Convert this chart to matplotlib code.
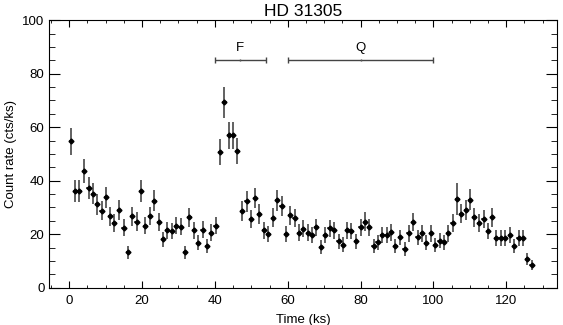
import matplotlib
matplotlib.use("Agg")
import matplotlib.pyplot as plt
from matplotlib.ticker import MultipleLocator
import numpy as np

plt.rcParams['font.family'] = ['Liberation Sans', 'DejaVu Sans']

# light curve, 1.2 ks bins
time_ks = [0.4, 1.55, 2.8, 4.0, 5.3, 6.5, 7.7, 8.9, 10.1, 11.3, 12.4, 13.7, 14.9, 16.1,
           17.3, 18.5, 19.7, 20.9, 22.2, 23.4, 24.6, 25.8, 26.9, 28.1, 29.4, 30.6, 31.8,
           33.0, 34.2, 35.4, 36.6, 37.8, 39.0, 40.2,
           41.4, 42.6, 43.8, 45.0, 46.2, 47.5, 48.7, 49.9, 51.0, 52.2, 53.5, 54.7, 55.9,
           57.1, 58.3, 59.5, 60.6, 61.9, 63.1, 64.3, 65.5, 66.7, 67.9, 69.1, 70.3, 71.5,
           72.7, 74.0, 75.2, 76.4, 77.5, 78.7, 80.0, 81.2, 82.4, 83.6, 84.7,
           86.0, 87.2, 88.4, 89.6, 90.9, 92.1, 93.2, 94.4, 95.7, 96.9, 98.1, 99.3, 100.5,
           101.7, 102.9, 104.1, 105.3, 106.6, 107.7, 109.0, 110.1, 111.3, 112.5, 113.8,
           115.0, 116.2, 117.3, 118.5, 119.8, 121.0, 122.2, 123.4, 124.6, 125.8, 127.0]
rate = [54.7, 36.1, 36.1, 43.7, 37.3, 35.1, 31.1, 28.7, 33.8, 26.6, 24.2, 29.0, 22.4, 13.2,
        26.6, 24.7, 36.1, 23.2, 26.8, 32.5, 24.5, 18.0, 21.5, 21.1, 23.2, 22.7, 13.2,
        26.3, 21.5, 16.7, 21.7, 15.5, 20.6, 23.2,
        50.7, 69.3, 57.0, 57.0, 51.1, 28.6, 32.2, 25.7, 33.5, 27.5, 21.5, 19.9, 26.1,
        32.6, 30.5, 19.9, 27.0, 26.0, 20.6, 22.1, 20.6, 19.7, 22.5, 15.1, 19.5, 22.2,
        21.5, 17.3, 16.1, 21.5, 21.1, 17.3, 22.6, 24.7, 22.6, 15.5, 17.0,
        19.7, 19.7, 20.7, 15.5, 18.8, 14.6, 20.3, 24.5, 18.8, 20.3, 16.7, 20.3, 15.9,
        17.6, 17.0, 20.3, 24.2, 33.2, 27.6, 29.1, 32.8, 26.3, 24.2, 25.7,
        21.1, 26.3, 18.5, 18.5, 18.5, 19.7, 15.5, 18.5, 18.5, 10.7, 8.5]
rate_err = [5.0, 4.1, 4.1, 4.5, 4.2, 4.0, 3.8, 3.6, 4.0, 3.5, 3.3, 3.7, 3.2, 2.5,
            3.5, 3.4, 4.1, 3.3, 3.5, 3.9, 3.4, 2.9, 3.2, 3.1, 3.3, 3.2, 2.5,
            3.5, 3.2, 2.8, 3.2, 2.7, 3.1, 3.3,
            4.8, 5.7, 5.1, 5.1, 4.9, 3.6, 3.9, 3.4, 3.9, 3.6, 3.2, 3.0, 3.5,
            3.9, 3.8, 3.0, 3.5, 3.5, 3.1, 3.2, 3.1, 3.0, 3.2, 2.6, 3.0, 3.2,
            3.2, 2.8, 2.7, 3.2, 3.1, 2.8, 3.2, 3.4, 3.2, 2.7, 2.8,
            3.0, 3.0, 3.1, 2.7, 2.9, 2.6, 3.1, 3.4, 2.9, 3.1, 2.8, 3.1, 2.7,
            2.9, 2.8, 3.1, 3.3, 6.0, 3.6, 3.7, 3.9, 3.5, 3.3, 3.4,
            3.1, 3.5, 2.9, 2.9, 2.9, 3.0, 2.7, 2.9, 2.9, 2.2, 2.0]
bin_half = 0.6

# flare / quiescent intervals
seg_labels = ['F', 'Q']
seg_start = [40, 60]
seg_end = [54, 100]
seg_level = 85

fig = plt.figure(figsize=(5.63, 3.25), dpi=100)
ax = fig.add_axes([0.0875, 0.115, 0.902, 0.823])

ax.errorbar(time_ks, rate, yerr=rate_err, xerr=bin_half, fmt='D', ms=2.5,
            mfc='black', mec='black', ecolor='#555555', elinewidth=1.3, capsize=0)

for lab, s, e in zip(seg_labels, seg_start, seg_end):
    mid = (s + e) / 2
    ax.errorbar([mid], [seg_level], xerr=[[mid - s], [e - mid]], fmt='|', ms=1.5,
                color='#555555', ecolor='#444444', elinewidth=1.0,
                capsize=2.5, capthick=1.0)
    ax.text(mid, seg_level + 2.5, lab, ha='center', va='bottom', fontsize=9.5)

ax.set_xlim(-5.5, 134)
ax.set_ylim(0, 100)
ax.xaxis.set_major_locator(MultipleLocator(20))
ax.xaxis.set_minor_locator(MultipleLocator(5))
ax.yaxis.set_major_locator(MultipleLocator(20))
ax.yaxis.set_minor_locator(MultipleLocator(5))
ax.tick_params(which='both', direction='in', top=True, right=True, labelsize=9.5)
ax.tick_params(axis='x', which='major', length=5, pad=5)
ax.tick_params(axis='x', which='minor', length=2.5)
ax.tick_params(axis='y', which='major', length=8)
ax.tick_params(axis='y', which='minor', length=4)

ax.set_xlabel('Time (ks)', fontsize=9.5, labelpad=5)
ax.set_ylabel('Count rate (cts/ks)', fontsize=9.5, labelpad=4)
ax.set_title('HD 31305', fontsize=12.5, pad=3)

fig.savefig('out.png', dpi=100)
